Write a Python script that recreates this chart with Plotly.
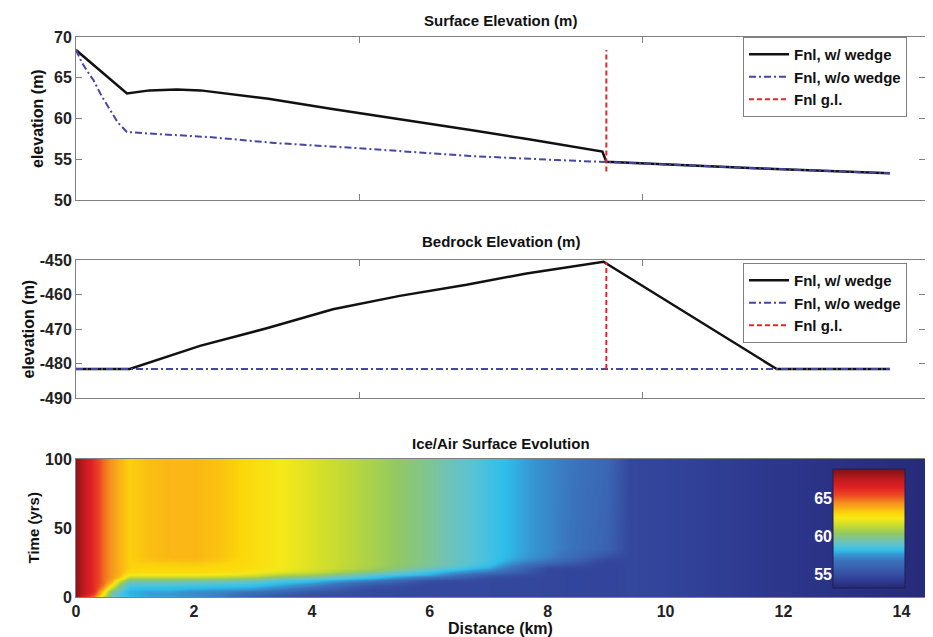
import numpy as np
import plotly.graph_objects as go

# ---------------- data ----------------
# Panel 1: surface elevation (m) vs distance (km)
SURF_WEDGE_X = [0, 0.3, 0.6, 0.9, 1.3, 1.78, 2.2, 2.8, 3.4, 4.5, 5.7, 7.0, 8.0, 9.3, 9.37, 10.5, 12.0, 14.38]
SURF_WEDGE_Y = [68.4, 66.65, 64.9, 63.07, 63.45, 63.56, 63.45, 62.95, 62.42, 61.2, 59.95, 58.55, 57.45, 55.95, 54.7, 54.35, 53.9, 53.28]
SURF_NOWEDGE_X = [0, 0.1, 0.2, 0.31, 0.45, 0.6, 0.74, 0.9, 1.3, 2.4, 3.5, 5.0, 6.96, 8.5, 9.37, 10.5, 12.0, 14.38]
SURF_NOWEDGE_Y = [68.4, 66.9, 65.8, 64.7, 62.8, 61.0, 59.5, 58.35, 58.15, 57.7, 57.0, 56.35, 55.4, 54.9, 54.7, 54.35, 53.9, 53.28]
GL_X = [9.37, 9.37]
GL_SURF_Y = [53.5, 68.4]
SURF_YTICKS = [50, 55, 60, 65, 70]

# Panel 2: bedrock elevation (m)
BED_WEDGE_X = [0, 0.95, 2.19, 3.37, 4.54, 5.72, 6.9, 7.96, 9.32, 12.38, 14.38]
BED_WEDGE_Y = [-481.6, -481.6, -474.9, -469.8, -464.3, -460.4, -457.2, -453.9, -450.5, -481.6, -481.6]
BED_NOWEDGE_X = [0, 14.38]
BED_NOWEDGE_Y = [-481.6, -481.6]
GL_BED_Y = [-481.6, -450.5]
BED_YTICKS = [-490, -480, -470, -460, -450]
BED_YTICKTEXT = ["-490", "-480", "-470", "-460", "-450"]

# Panel 3: ice/air surface evolution (m); one list per distance column, values over time
HM_X = [0, 0.15, 0.3, 0.45, 0.6, 0.75, 0.9, 1.2, 1.6, 2.0, 2.5, 3.0, 3.5, 4.0, 5.0, 6.0, 7.0, 8.0, 9.0, 9.4, 10.5, 12.0, 14.4]
HM_T = [0, 2, 4, 6, 8, 10, 12, 14, 16, 18, 21, 24, 27, 30, 35, 100]
HM_COLUMNS = [
    [68.4, 68.4, 68.4, 68.4, 68.4, 68.4, 68.4, 68.4, 68.4, 68.4, 68.4, 68.4, 68.4, 68.4, 68.4, 68.4],
    [66.3, 67.0, 67.2, 67.2, 67.2, 67.2, 67.2, 67.2, 67.2, 67.2, 67.2, 67.2, 67.2, 67.2, 67.2, 67.2],
    [64.5, 65.5, 66.0, 66.0, 66.0, 66.0, 66.0, 66.0, 66.0, 66.0, 66.0, 66.0, 66.0, 66.0, 66.0, 66.0],
    [61.5, 62.5, 63.2, 64.0, 64.6, 64.9, 64.9, 64.9, 64.9, 64.9, 64.9, 64.9, 64.9, 64.9, 64.9, 64.9],
    [59.5, 59.6, 60.0, 61.0, 62.3, 63.4, 64.0, 64.2, 64.2, 64.2, 64.2, 64.2, 64.2, 64.2, 64.2, 64.2],
    [58.6, 58.6, 58.8, 59.2, 59.8, 60.6, 61.8, 63.0, 63.5, 63.6, 63.6, 63.6, 63.6, 63.6, 63.6, 63.6],
    [58.2, 58.0, 58.0, 58.2, 58.5, 59.0, 59.8, 60.8, 62.2, 62.9, 63.1, 63.1, 63.1, 63.1, 63.1, 63.1],
    [57.9, 57.7, 57.8, 58.1, 58.4, 59.0, 59.8, 60.8, 62.2, 62.8, 63.0, 63.1, 63.3, 63.4, 63.4, 63.4],
    [57.8, 57.6, 57.8, 58.1, 58.4, 59.0, 59.8, 60.8, 62.2, 62.8, 63.0, 63.15, 63.4, 63.55, 63.55, 63.55],
    [57.6, 57.3, 57.5, 57.9, 58.3, 58.9, 59.7, 60.8, 62.2, 62.8, 63.0, 63.2, 63.45, 63.55, 63.55, 63.55],
    [57.0, 57.0, 57.3, 57.8, 58.2, 58.8, 59.6, 60.7, 62.0, 62.7, 62.9, 63.0, 63.2, 63.3, 63.3, 63.3],
    [55.8, 56.2, 56.9, 57.6, 58.1, 58.6, 59.3, 60.4, 61.6, 62.4, 62.7, 62.8, 62.8, 62.8, 62.8, 62.8],
    [55.3, 55.6, 56.3, 57.0, 57.6, 58.1, 58.7, 59.6, 60.8, 61.9, 62.3, 62.3, 62.3, 62.3, 62.3, 62.3],
    [55.0, 55.1, 55.5, 56.2, 57.0, 57.7, 58.3, 59.2, 60.4, 61.4, 61.8, 61.8, 61.8, 61.8, 61.8, 61.8],
    [54.8, 54.8, 54.8, 54.8, 55.2, 56.0, 57.2, 58.1, 58.7, 59.9, 60.7, 60.8, 60.8, 60.8, 60.8, 60.8],
    [54.7, 54.7, 54.7, 54.7, 54.7, 54.7, 55.2, 56.4, 57.8, 58.3, 59.2, 59.7, 59.7, 59.7, 59.7, 59.7],
    [54.7, 54.7, 54.7, 54.7, 54.7, 54.7, 54.7, 54.9, 55.5, 56.8, 57.8, 58.3, 58.4, 58.4, 58.4, 58.4],
    [54.6, 54.6, 54.6, 54.6, 54.6, 54.6, 54.6, 54.6, 54.6, 54.6, 54.8, 55.8, 56.8, 57.2, 57.3, 57.3],
    [54.5, 54.5, 54.5, 54.5, 54.5, 54.5, 54.5, 54.5, 54.5, 54.5, 54.5, 54.5, 54.7, 55.2, 55.9, 56.2],
    [54.65, 54.65, 54.65, 54.65, 54.65, 54.65, 54.65, 54.65, 54.65, 54.65, 54.65, 54.65, 54.65, 54.65, 54.65, 54.65],
    [54.35, 54.35, 54.35, 54.35, 54.35, 54.35, 54.35, 54.35, 54.35, 54.35, 54.35, 54.35, 54.35, 54.35, 54.35, 54.35],
    [53.9, 53.9, 53.9, 53.9, 53.9, 53.9, 53.9, 53.9, 53.9, 53.9, 53.9, 53.9, 53.9, 53.9, 53.9, 53.9],
    [53.3, 53.3, 53.3, 53.3, 53.3, 53.3, 53.3, 53.3, 53.3, 53.3, 53.3, 53.3, 53.3, 53.3, 53.3, 53.3],
]
HM_XTICKS = [0, 2, 4, 6, 8, 10, 12, 14]
HM_YTICKS = [0, 50, 100]
CB_TICKS = [55, 60, 65]

# ---------------- layout geometry (screen px; page body has an 8px margin) ----------------
OFF = 8
W, H = 933 - OFF, 637 - OFF
ML, MT = 76 - OFF, 37 - OFF
MR = W - (925 - OFF)
MB = H - (597 - OFF)
PW, PH = W - ML - MR, H - MT - MB
FONT = "Liberation Sans, Arial, Helvetica, sans-serif"
ZMIN, ZMAX = 53.2, 68.8

def ydom(top_px, bot_px):
    return [1 - (bot_px - 37) / PH, 1 - (top_px - 37) / PH]

def xfrac(px):
    return (px - 76) / PW

D1 = ydom(37, 200)
D2 = ydom(260, 398)
D3 = ydom(459, 597)
DCB = ydom(469, 588)

CSTOPS = [
    (53.2, "rgb(38,42,118)"), (53.8, "rgb(43,52,136)"), (54.5, "rgb(50,68,155)"),
    (55.3, "rgb(55,85,165)"), (56.0, "rgb(58,100,178)"), (56.8, "rgb(58,115,188)"),
    (57.6, "rgb(55,150,210)"), (58.1, "rgb(45,190,235)"), (58.7, "rgb(85,195,215)"),
    (59.4, "rgb(115,195,175)"), (60.3, "rgb(145,200,100)"), (61.3, "rgb(195,218,50)"),
    (62.3, "rgb(245,232,25)"), (63.0, "rgb(252,215,10)"), (63.5, "rgb(250,185,20)"),
    (64.4, "rgb(245,140,30)"), (65.4, "rgb(236,70,35)"), (66.4, "rgb(225,32,36)"),
    (67.6, "rgb(185,25,30)"), (68.8, "rgb(120,18,22)"),
]
COLORSCALE = [[(v - ZMIN) / (ZMAX - ZMIN), c] for v, c in CSTOPS]

BLACK = "#111111"
BLUE = "#4646a8"
RED = "#e02828"
AXC = "#808080"
TICKFONT = dict(family=FONT, size=16, color="#222222", weight="bold")

fig = go.Figure()

# Panel 1
fig.add_trace(go.Scatter(x=SURF_WEDGE_X, y=SURF_WEDGE_Y, mode="lines", name="Fnl, w/ wedge",
                         line=dict(color=BLACK, width=2.5), xaxis="x", yaxis="y", legend="legend"))
fig.add_trace(go.Scatter(x=SURF_NOWEDGE_X, y=SURF_NOWEDGE_Y, mode="lines", name="Fnl, w/o wedge",
                         line=dict(color=BLUE, width=2, dash="7px,3px,2px,3px"), xaxis="x", yaxis="y", legend="legend"))
fig.add_trace(go.Scatter(x=GL_X, y=GL_SURF_Y, mode="lines", name="Fnl g.l.",
                         line=dict(color=RED, width=2, dash="5px,3px"), xaxis="x", yaxis="y", legend="legend"))
# Panel 2
fig.add_trace(go.Scatter(x=BED_WEDGE_X, y=BED_WEDGE_Y, mode="lines", name="Fnl, w/ wedge",
                         line=dict(color=BLACK, width=2.5), xaxis="x2", yaxis="y2", legend="legend2"))
fig.add_trace(go.Scatter(x=BED_NOWEDGE_X, y=BED_NOWEDGE_Y, mode="lines", name="Fnl, w/o wedge",
                         line=dict(color=BLUE, width=2, dash="7px,3px,2px,3px"), xaxis="x2", yaxis="y2", legend="legend2"))
fig.add_trace(go.Scatter(x=GL_X, y=GL_BED_Y, mode="lines", name="Fnl g.l.",
                         line=dict(color=RED, width=2, dash="5px,3px"), xaxis="x2", yaxis="y2", legend="legend2"))
# Panel 3
Z = np.array(HM_COLUMNS).T
fig.add_trace(go.Heatmap(
    x=HM_X, y=HM_T, z=Z, zsmooth="best", colorscale=COLORSCALE, zmin=ZMIN, zmax=ZMAX,
    xaxis="x3", yaxis="y3", hoverinfo="skip",
    colorbar=dict(x=xfrac(833), xanchor="left", y=(DCB[0] + DCB[1]) / 2, yanchor="middle",
                  len=119, lenmode="pixels", thickness=72, thicknessmode="pixels",
                  xpad=0, ypad=0, outlinewidth=1, outlinecolor="#1e1e50",
                  showticklabels=False, ticks="", borderwidth=0),
))
# invisible trace carrying the colorbar's left-side tick labels
fig.add_trace(go.Scatter(x=[None], y=[None], xaxis="x4", yaxis="y4", showlegend=False, hoverinfo="skip"))

common = dict(showline=True, linecolor=AXC, linewidth=1, mirror="ticks", ticks="inside",
              ticklen=6, tickcolor=AXC, showgrid=False, zeroline=False, tickfont=TICKFONT)

legend_style = dict(xanchor="right", yanchor="top", bgcolor="white", bordercolor=AXC, borderwidth=1,
                    font=dict(family=FONT, size=15, color="#111111", weight="bold"),
                    tracegroupgap=0, itemwidth=40)

fig.update_layout(
    width=W, height=H, margin=dict(l=ML, r=MR, t=MT, b=MB),
    paper_bgcolor="white", plot_bgcolor="rgba(0,0,0,0)",
    font=dict(family=FONT, color="#111111"),
    xaxis=dict(domain=[0, 1], anchor="y", range=[0, 15], tickvals=[5, 10], showticklabels=False, **common),
    yaxis=dict(domain=D1, anchor="x", range=[50, 70], tickvals=SURF_YTICKS, **common),
    xaxis2=dict(domain=[0, 1], anchor="y2", range=[0, 15], tickvals=[5, 10], showticklabels=False, **common),
    yaxis2=dict(domain=D2, anchor="x2", range=[-490, -450], tickvals=BED_YTICKS, ticktext=BED_YTICKTEXT, **common),
    xaxis3=dict(domain=[0, 1], anchor="y3", range=[0, 14.4], tickvals=HM_XTICKS,
                **{**common, "ticks": "", "mirror": True}),
    yaxis3=dict(domain=D3, anchor="x3", range=[0, 100], tickvals=HM_YTICKS,
                **{**common, "ticks": "", "mirror": True}),
    xaxis4=dict(domain=[xfrac(833), xfrac(905)], anchor="y4", range=[0, 1], visible=False),
    yaxis4=dict(domain=DCB, anchor="x4", range=[ZMIN, ZMAX], tickvals=CB_TICKS, showgrid=False,
                zeroline=False, showline=False, ticks="",
                tickfont=dict(family=FONT, size=16, color="white", weight="bold")),
    legend=dict(x=xfrac(907), y=1, **legend_style),
    legend2=dict(x=xfrac(907), y=ydom(263, 263)[1], **legend_style),
    showlegend=True,
)

title_font = dict(family=FONT, size=15, color="#111111", weight="bold")
label_font = dict(family=FONT, size=16, color="#111111", weight="bold")
ann = [
    dict(text="Surface Elevation (m)", x=0.5, y=D1[1], yshift=17, font=title_font),
    dict(text="Bedrock Elevation (m)", x=0.5, y=D2[1], yshift=18, font=title_font),
    dict(text="Ice/Air Surface Evolution", x=0.5, y=D3[1], yshift=16, font=title_font),
    dict(text="elevation (m)", x=0, xshift=37.5 - 76, y=(D1[0] + D1[1]) / 2, textangle=-90, font=label_font),
    dict(text="elevation (m)", x=0, xshift=28.5 - 76, y=(D2[0] + D2[1]) / 2, textangle=-90, font=label_font),
    dict(text="Time (yrs)", x=0, xshift=32.5 - 76, y=(D3[0] + D3[1]) / 2, textangle=-90,
         font=dict(family=FONT, size=15, color="#111111", weight="bold")),
    dict(text="Distance (km)", x=0.5, y=0, yshift=-31.5, font=label_font),
]
for a in ann:
    fig.add_annotation(xref="paper", yref="paper", showarrow=False, xanchor="center", yanchor="middle", **a)

fig.write_html("out.html")
